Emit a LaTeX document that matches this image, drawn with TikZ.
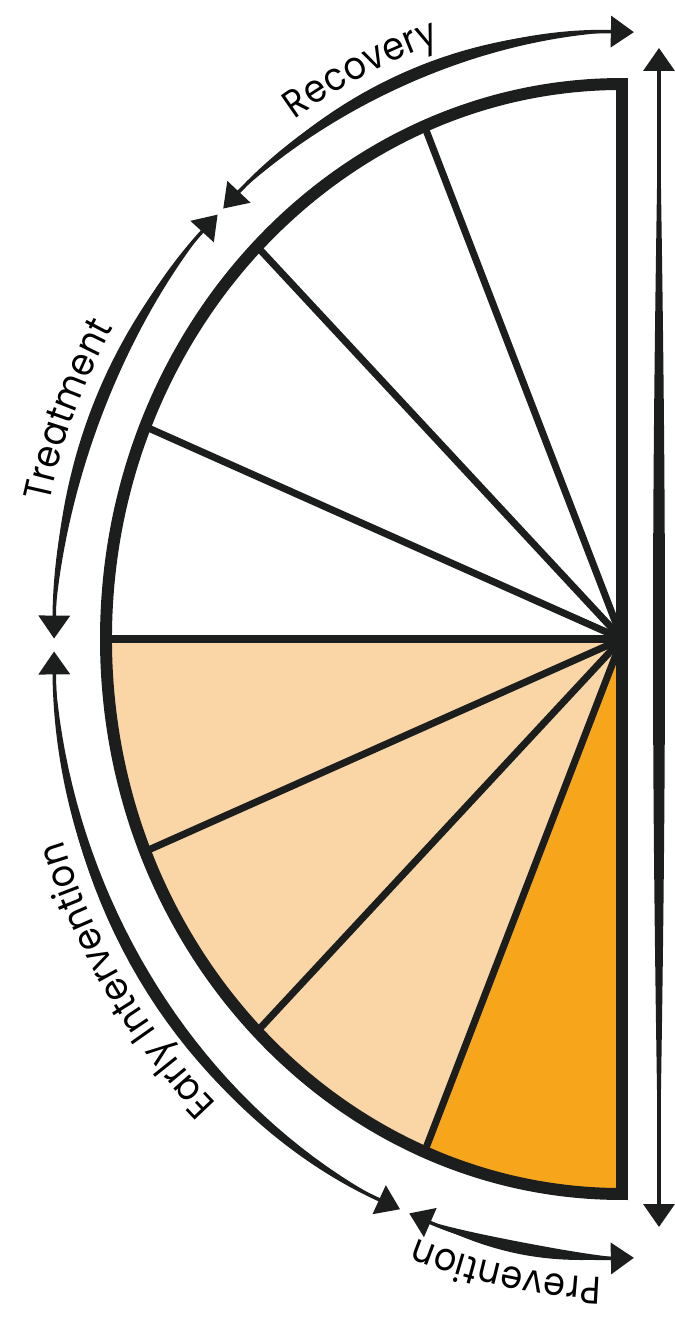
\documentclass[tikz,border=0pt]{standalone}
\usepackage{fontspec}
\newfontfamily\phasefamily[FakeStretch=0.9]{Poppins}
\usetikzlibrary{arrows.meta,decorations.text}
\definecolor{phaseink}{RGB}{28,30,30}
\definecolor{phaselight}{RGB}{250,213,166}
\definecolor{phasedark}{RGB}{247,166,28}
\newcommand\phasefont{\phasefamily\fontsize{11}{13}\selectfont}

% tapered band along the outer ellipse (centre 0,-6)
\newcommand\taperarc[2]{%
  \fill[phaseink] plot[domain=#1:#2, samples=40]
      ({(568+6*sin(180*(\x-#1)/(#2-#1)))*cos(\x)}, {-6+(613+6*sin(180*(\x-#1)/(#2-#1)))*sin(\x)})
    -- plot[domain=#2:#1, samples=40]
      ({(568-6*sin(180*(\x-#1)/(#2-#1)))*cos(\x)}, {-6+(613-6*sin(180*(\x-#1)/(#2-#1)))*sin(\x)})
    -- cycle;}

\begin{document}
\begin{tikzpicture}[x=0.1mm, y=0.1mm,
    spoke/.style={draw=phaseink, line width=2pt},
    rim/.style={draw=phaseink, line width=3.4pt, line join=miter},
    phase/.style={draw=phaseink, line width=1pt,
        {Triangle[length=2.3mm, width=3.1mm]}-{Triangle[length=2.3mm, width=3.1mm]}},
    phaselabel/.style={decorate, decoration={text along path, text align=center, raise=2mm}}]
\useasboundingbox (-622,639) rectangle (53,-693);
\coordinate (hub) at (0,0);
\coordinate (oc) at (0,-6);

% sectors
\fill[phaselight] (hub) -- (180:516 and 555)
  arc[start angle=180, end angle=247.5, x radius=516, y radius=555] -- cycle;
\fill[phasedark] (hub) -- (247.5:516 and 555)
  arc[start angle=247.5, end angle=270, x radius=516, y radius=555] -- cycle;
\foreach \a in {112.5,135,157.5,180,202.5,225,247.5}
  \draw[spoke] (hub) -- (\a:516 and 555);
\draw[rim] (0,555) arc[start angle=90, end angle=270, x radius=516, y radius=555] -- cycle;

% phase arrows
\draw[phase] ([shift={(134.6:568 and 613)}]oc) arc[start angle=134.6, end angle=88.8, x radius=568, y radius=613];
\taperarc{91}{133}
\draw[phase] ([shift={(179.4:568 and 613)}]oc) arc[start angle=179.4, end angle=135.4, x radius=568, y radius=613];
\taperarc{137}{178}
\draw[phase] ([shift={(247:568 and 613)}]oc) arc[start angle=247, end angle=180.6, x radius=568, y radius=613];
\taperarc{182}{245}
\draw[phase] ([shift={(271.2:568 and 613)}]oc) arc[start angle=271.2, end angle=248, x radius=568, y radius=613];
\taperarc{250}{270}

% labels
\path[phaselabel, decoration={text={|\phasefont|Recovery}}]
  ([shift={(145:568 and 613)}]oc) arc[start angle=145, end angle=86, x radius=568, y radius=613];
\path[phaselabel, decoration={text={|\phasefont|Treatment}}]
  ([shift={(190:568 and 613)}]oc) arc[start angle=190, end angle=126, x radius=568, y radius=613];
\path[phaselabel, decoration={text={|\phasefont|Early Intervention}}]
  ([shift={(254:568 and 613)}]oc) arc[start angle=254, end angle=172, x radius=568, y radius=613];
\path[phaselabel, decoration={text={|\phasefont|Prevention}}]
  ([shift={(290:568 and 613)}]oc) arc[start angle=290, end angle=228, x radius=568, y radius=613];

% whole span
\draw[phase] (37,591) -- (37,-588);
\fill[phaseink] plot[domain=-575:575, samples=40] ({37+6*cos(\x/575*90)}, \x)
  -- plot[domain=575:-575, samples=40] ({37-6*cos(\x/575*90)}, \x) -- cycle;
\end{tikzpicture}
\end{document}
